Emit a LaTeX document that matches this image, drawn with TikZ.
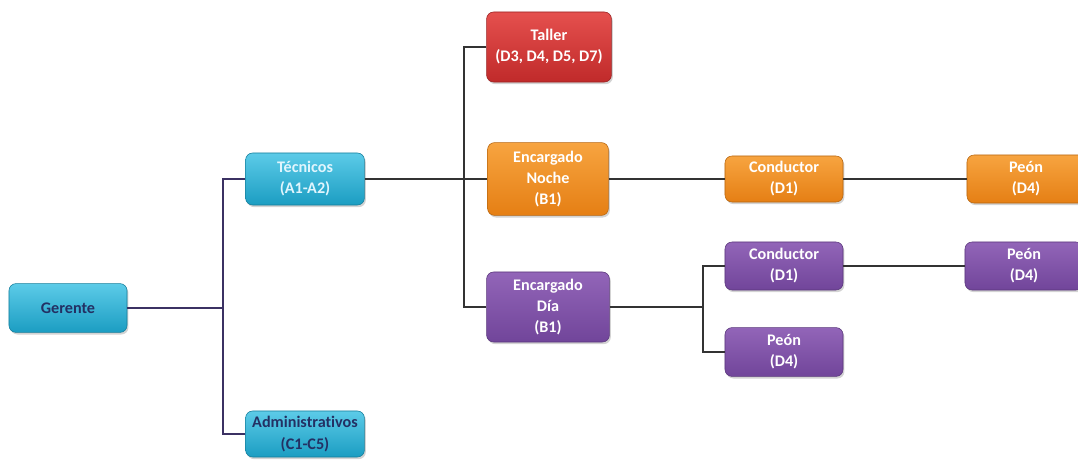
\documentclass[tikz,border=0pt]{standalone}
\usepackage{fontspec}
\setmainfont{Carlito}[Ligatures=NoCommon]
\usetikzlibrary{shadows}

\definecolor{cyantop}{HTML}{5CCBE8}
\definecolor{cyanbot}{HTML}{1B9DC2}
\definecolor{redtop}{HTML}{E5504E}
\definecolor{redbot}{HTML}{C02A2A}
\definecolor{orangetop}{HTML}{F7A440}
\definecolor{orangebot}{HTML}{E57F14}
\definecolor{purpletop}{HTML}{9265B8}
\definecolor{purplebot}{HTML}{71459A}
\definecolor{navytext}{HTML}{233063}
\definecolor{navyline}{HTML}{3B3163}
\definecolor{grayline}{HTML}{333333}

\tikzset{
  box/.style={rounded corners=5pt, align=center, inner sep=2pt,
    font=\fontsize{11.5}{15}\selectfont\bfseries, text=white,
    drop shadow={opacity=0.35, shadow xshift=1pt, shadow yshift=-1.5pt}},
  cyanbox/.style={box, draw=cyanbot!80!black, line width=0.4pt, top color=cyantop, bottom color=cyanbot},
  redbox/.style={box, draw=redbot!80!black, line width=0.4pt, top color=redtop, bottom color=redbot},
  orangebox/.style={box, draw=orangebot!80!black, line width=0.4pt, top color=orangetop, bottom color=orangebot},
  purplebox/.style={box, draw=purplebot!80!black, line width=0.4pt, top color=purpletop, bottom color=purplebot},
  link/.style={grayline, line width=1.3pt},
  linkleft/.style={navyline, line width=1.4pt}
}

\begin{document}
\begin{tikzpicture}[x=0.025cm, y=-0.025cm]
  \useasboundingbox (0,0) rectangle (1078,460);

  % Left column
  \node[cyanbox, text=navytext, minimum width=2.95cm, minimum height=1.22cm] (ger) at (68,308) {Gerente};
  \node[cyanbox, text=white!88!cyan, minimum width=2.97cm, minimum height=1.3cm] (tec) at (305,179) {Técnicos\\(A1-A2)};
  \node[cyanbox, text=navytext, minimum width=2.97cm, minimum height=1.15cm] (adm) at (305,434) {Administrativos\\(C1-C5)};

  % Middle column
  \node[redbox, minimum width=3.12cm, minimum height=1.75cm] (tal) at (549,47) {Taller\\(D3, D4, D5, D7)};
  \node[orangebox, minimum width=3.02cm, minimum height=1.82cm] (noc) at (548,179) {Encargado\\Noche\\(B1)};
  \node[purplebox, minimum width=3.07cm, minimum height=1.75cm] (dia) at (548,307) {Encargado\\Día\\(B1)};

  % Right columns
  \node[orangebox, minimum width=2.95cm, minimum height=1.15cm] (con1) at (784,179) {Conductor\\(D1)};
  \node[orangebox, minimum width=2.95cm, minimum height=1.2cm] (peo1) at (1026,179) {Peón\\(D4)};
  \node[purplebox, minimum width=2.95cm, minimum height=1.2cm] (con2) at (784,266) {Conductor\\(D1)};
  \node[purplebox, minimum width=2.95cm, minimum height=1.2cm] (peo2) at (1024,266) {Peón\\(D4)};
  \node[purplebox, minimum width=2.95cm, minimum height=1.22cm] (peo3) at (784,352) {Peón\\(D4)};

  % Connector junctions
  \coordinate (busA) at (223,308);
  \coordinate (busB) at (464,179);
  \coordinate (busC) at (703,307);

  % Connectors
  \draw[linkleft] (ger.east) -- (busA);
  \draw[linkleft] (tec.west) -| (busA);
  \draw[linkleft] (adm.west) -| (busA);
  \draw[link] (tec.east) -- (busB) -- (noc.west);
  \draw[link] (tal.west) -| (busB);
  \draw[link] (dia.west) -| (busB);
  \draw[link] (dia.east) -- (busC);
  \draw[link] (con2.west) -| (busC);
  \draw[link] (peo3.west) -| (busC);
  \draw[link] (noc.east) -- (con1.west);
  \draw[link] (con1.east) -- (peo1.west);
  \draw[link] (con2.east) -- (peo2.west);
\end{tikzpicture}
\end{document}
